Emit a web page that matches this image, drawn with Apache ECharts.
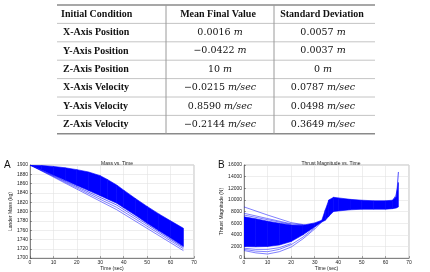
<!DOCTYPE html>
<html>
<head>
<meta charset="utf-8">
<script src="https://cdn.jsdelivr.net/npm/echarts@6/dist/echarts.min.js"></script>
<style>
  html, body { margin: 0; padding: 0; background: #fff; }
  #main { width: 430px; height: 272px; }
</style>
</head>
<body>
<div id="main"></div>
<script>
// Table content
const headers = ['Initial Condition', 'Mean Final Value', 'Standard Deviation']
const conditions = ['X-Axis Position', 'Y-Axis Position', 'Z-Axis Position', 'X-Axis Velocity', 'Y-Axis Velocity', 'Z-Axis Velocity']
const meanValues = ['0.0016', '\u22120.0422', '10', '\u22120.0215', '0.8590', '\u22120.2144']
const sdValues = ['0.0057', '0.0037', '0', '0.0787', '0.0498', '0.3649']
const units = ['m', 'm', 'm', 'm/sec', 'm/sec', 'm/sec']

// Panel A: mass vs time (band of runs + a few stray runs)
const timeA = [0, 5, 10, 15, 20, 25, 30, 33, 37, 40, 45, 50, 55, 60, 65.5]
const massUpper = [1900, 1899, 1897, 1894, 1890, 1885, 1877, 1869, 1857, 1846, 1828, 1811, 1795, 1780, 1764]
const massLower = [1900, 1889, 1878, 1867, 1856, 1845, 1834, 1827, 1818, 1808, 1792, 1775, 1759, 1743, 1725]
const massLow1 = [[0, 1900], [37, 1809], [65.5, 1720]]
const massLow2 = [[0, 1900], [37, 1804], [65.5, 1716]]
const massFringe = [[0, 1900], [37, 1814], [65.5, 1723]]

// Panel B: thrust magnitude vs time
const timeB = [0, 5, 10, 15, 20, 25, 30, 33, 34.5, 36, 38, 40, 45, 50, 55, 60, 63, 64.5, 65.5]
const thrustUpper = [7100, 6750, 6350, 6000, 5700, 5650, 6050, 6500, 8300, 10000, 10450, 10350, 10100, 9950, 9850, 9850, 9950, 10500, 13000]
const thrustLower = [2000, 1950, 2000, 2250, 2850, 4000, 5350, 6200, 6500, 7200, 8000, 8100, 8300, 8400, 8400, 8400, 8500, 8600, 8800]
const thrustHigh1 = [[0, 8800], [10, 7400], [20, 6100], [26, 5700]]
const thrustHigh2 = [[0, 7700], [10, 6800], [20, 5900], [25, 5700]]
const thrustHigh3 = [[0, 7400], [10, 6600], [20, 5800]]
const thrustLow1 = [[0, 1300], [5, 900], [10, 700], [15, 1100], [20, 1900], [25, 3300], [30, 5000], [33, 6200]]
const thrustLow2 = [[0, 1500], [5, 1200], [10, 1100], [15, 1500], [20, 2300], [25, 3600], [30, 5200]]
const thrustLow3 = [[0, 1700], [5, 1500], [10, 1500], [15, 1800], [20, 2500]]
const thrustSpike = [[63, 9900], [64.5, 10800], [65, 12000], [65.5, 14800]]

const BLUE = '#0000ff'
const tickFont = { fontSize: 5, color: '#222', fontFamily: 'Liberation Sans' }

let myChart = echarts.init(document.getElementById('main'), null, { renderer: 'canvas' })

// build the table with graphic elements
let graphic = []
const tLeft = 57, tRight = 375, tTop = 5, rowH = 18.4
const colX = [166, 274]
const tBottom = tTop + rowH * 7
graphic.push({ type: 'line', shape: { x1: tLeft, y1: tTop, x2: tRight, y2: tTop }, style: { stroke: '#8a8a8a', lineWidth: 1.5 } })
graphic.push({ type: 'line', shape: { x1: tLeft, y1: tBottom, x2: tRight, y2: tBottom }, style: { stroke: '#8a8a8a', lineWidth: 1.5 } })
for (let i = 1; i < 7; i++) {
  let y = tTop + rowH * i
  graphic.push({ type: 'line', shape: { x1: tLeft, y1: y, x2: tRight, y2: y }, style: { stroke: '#b5b5b5', lineWidth: 0.8 } })
}
colX.forEach(x => {
  graphic.push({ type: 'line', shape: { x1: x, y1: tTop, x2: x, y2: tBottom }, style: { stroke: '#9a9a9a', lineWidth: 1 } })
})
const headCenters = [null, 218, 322]
headers.forEach((h, i) => {
  graphic.push({
    type: 'text', x: i === 0 ? 61 : headCenters[i], y: tTop + rowH / 2,
    style: { text: h, align: i === 0 ? 'left' : 'center', verticalAlign: 'middle', fill: '#111',
      fontSize: 10, fontWeight: 'bold', fontFamily: 'Liberation Serif' }
  })
})
for (let r = 0; r < conditions.length; r++) {
  let y = tTop + rowH * (r + 1.5)
  graphic.push({
    type: 'text', x: 63, y: y,
    style: { text: conditions[r], align: 'left', verticalAlign: 'middle', fill: '#111',
      fontSize: 10, fontWeight: 'bold', fontFamily: 'Liberation Serif' }
  })
  const rich = {
    n: { fontSize: 9.5, fontFamily: 'DejaVu Serif', fill: '#111', color: '#111' },
    u: { fontSize: 9.5, fontFamily: 'DejaVu Serif', fontStyle: 'italic', fill: '#111', color: '#111' }
  }
  graphic.push({
    type: 'text', x: 220, y: y,
    style: { text: `{n|${meanValues[r]} }{u|${units[r]}}`, rich: rich, align: 'center', verticalAlign: 'middle', fill: '#111' }
  })
  graphic.push({
    type: 'text', x: 323, y: y,
    style: { text: `{n|${sdValues[r]} }{u|${units[r]}}`, rich: rich, align: 'center', verticalAlign: 'middle', fill: '#111' }
  })
}
// panel letters
graphic.push({ type: 'text', x: 4, y: 160, style: { text: 'A', fontSize: 10, fontFamily: 'Liberation Sans', fill: '#111' } })
graphic.push({ type: 'text', x: 218, y: 160, style: { text: 'B', fontSize: 10, fontFamily: 'Liberation Sans', fill: '#111' } })

function xAxisCfg(gridIndex) {
  return {
    type: 'value', gridIndex: gridIndex, min: 0, max: 70, interval: 10,
    name: 'Time (sec)', nameLocation: 'middle', nameGap: 5,
    nameTextStyle: tickFont,
    axisLine: { show: true, lineStyle: { color: '#444', width: 0.6 } },
    axisTick: { inside: true, length: 2, lineStyle: { color: '#444', width: 0.5 } },
    axisLabel: Object.assign({ margin: 2, formatter: v => String(v) }, tickFont),
    splitLine: { show: true, lineStyle: { color: '#e2e2e2', width: 0.6 } }
  }
}
function yAxisCfg(gridIndex, name, min, max, interval, gap) {
  return {
    type: 'value', gridIndex: gridIndex, min: min, max: max, interval: interval,
    name: name, nameLocation: 'middle', nameGap: gap,
    nameTextStyle: tickFont,
    axisLine: { show: true, lineStyle: { color: '#444', width: 0.6 } },
    axisTick: { inside: true, length: 2, lineStyle: { color: '#444', width: 0.5 } },
    axisLabel: Object.assign({ margin: 2, formatter: v => String(v) }, tickFont),
    splitLine: { show: true, lineStyle: { color: '#e2e2e2', width: 0.6 } }
  }
}

// the dense bundle of runs is drawn as a filled band between its lower and upper edge
function bandSeries(idx, times, lower, upper) {
  return {
    type: 'custom', xAxisIndex: idx, yAxisIndex: idx, silent: true, clip: true,
    data: times.map((t, i) => [t, lower[i], upper[i]]),
    encode: { x: 0, y: [1, 2] },
    renderItem: function (params, api) {
      let i = params.dataIndex
      if (i >= times.length - 1) return
      let pts = [
        api.coord([times[i], lower[i]]),
        api.coord([times[i + 1], lower[i + 1]]),
        api.coord([times[i + 1], upper[i + 1]]),
        api.coord([times[i], upper[i]])
      ]
      return { type: 'polygon', shape: { points: pts }, style: { fill: BLUE, stroke: BLUE, lineWidth: 0.6 } }
    }
  }
}
function runLine(idx, data, width) {
  return {
    type: 'line', xAxisIndex: idx, yAxisIndex: idx, symbol: 'none', silent: true,
    lineStyle: { color: BLUE, width: width || 0.5 }, data: data
  }
}

let option = {
  backgroundColor: '#fff',
  animation: false,
  title: [
    { text: 'Mass vs. Time', left: 112, top: 156, textAlign: 'center',
      textStyle: { fontSize: 5, fontWeight: 'normal', color: '#222', fontFamily: 'Liberation Sans' } },
    { text: 'Thrust Magnitude vs. Time', left: 326, top: 156, textAlign: 'center',
      textStyle: { fontSize: 5, fontWeight: 'normal', color: '#222', fontFamily: 'Liberation Sans' } }
  ],
  grid: [
    { left: 30, top: 165, width: 164, height: 94, show: true, borderColor: '#999', borderWidth: 0.6, backgroundColor: '#fff' },
    { left: 244, top: 165, width: 165, height: 94, show: true, borderColor: '#999', borderWidth: 0.6, backgroundColor: '#fff' }
  ],
  xAxis: [xAxisCfg(0), xAxisCfg(1)],
  yAxis: [
    yAxisCfg(0, 'Lander Mass (kg)', 1700, 1900, 20, 13),
    yAxisCfg(1, 'Thrust Magnitude (N)', 0, 16000, 2000, 15)
  ],
  series: [
    bandSeries(0, timeA, massLower, massUpper),
    runLine(0, massFringe, 0.6),
    runLine(0, massLow1, 0.5),
    runLine(0, massLow2, 0.5),
    bandSeries(1, timeB, thrustLower, thrustUpper),
    runLine(1, thrustHigh1),
    runLine(1, thrustHigh2),
    runLine(1, thrustHigh3),
    runLine(1, thrustLow1),
    runLine(1, thrustLow2),
    runLine(1, thrustLow3),
    runLine(1, thrustSpike, 0.7)
  ],
  graphic: graphic
}
myChart.setOption(option)
</script>
</body>
</html>
